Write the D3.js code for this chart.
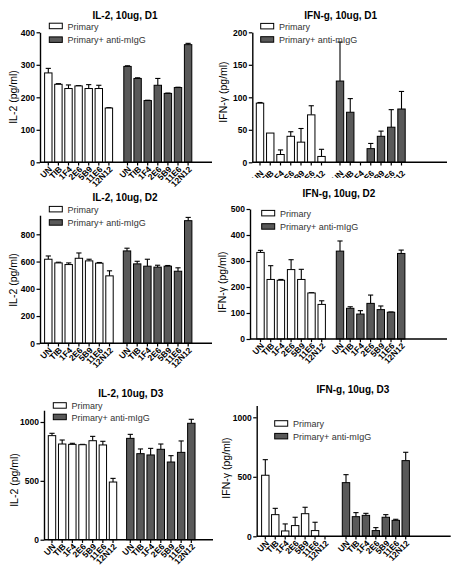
<!DOCTYPE html>
<html><head><meta charset="utf-8">
<script src="https://cdn.jsdelivr.net/npm/d3@7"></script>
<style>
html,body{margin:0;padding:0;background:#fff;}
svg{display:block;font-family:"Liberation Sans",Arial,sans-serif;}
</style></head><body>
<svg id="c" width="458" height="576"></svg>
<script>
// ---------- data ----------
const categories = ["UN","TIB","1F4","2E6","5B9","11E6","12N12"];
const seriesNames = ["Primary","Primary+ anti-mIgG"];

const il2D1Primary    = [275,240,227,235,227,227,167];
const il2D1PrimaryErr = [14,2,11,1,12,10,1];
const il2D1Anti       = [295,258,190,237,212,230,362];
const il2D1AntiErr    = [2,2,1,21,1,1,4];

const ifnD1Primary    = [91,45,12,40,31,73,9];
const ifnD1PrimaryErr = [1,0,7,7,21,14,11];
const ifnD1Anti       = [125,77,0,21,40,54,82];
const ifnD1AntiErr    = [60,21,0,8,8,27,27];

const il2D2Primary    = [617,590,578,624,605,588,495];
const il2D2PrimaryErr = [24,5,12,39,12,5,37];
const il2D2Anti       = [678,583,566,559,566,529,900];
const il2D2AntiErr    = [20,19,51,14,5,25,24];

const ifnD2Primary    = [333,229,226,267,229,177,133];
const ifnD2PrimaryErr = [8,53,3,38,39,1,14];
const ifnD2Anti       = [338,118,96,137,113,103,329];
const ifnD2AntiErr    = [39,6,13,32,14,1,13];

const il2D3Primary    = [884,813,810,807,841,805,490];
const il2D3PrimaryErr = [20,34,9,3,37,31,31];
const il2D3Anti       = [861,731,720,768,660,742,989];
const il2D3AntiErr    = [34,40,56,45,54,97,34];

const ifnD3Primary    = [513,182,45,90,190,48,0];
const ifnD3PrimaryErr = [131,53,59,70,54,70,0];
const ifnD3Anti       = [451,165,176,48,160,134,636];
const ifnD3AntiErr    = [67,34,17,25,22,9,70];

const ticksIl2D1 = [0,100,200,300,400];
const ticksIfnD1 = [0,50,100,150,200];
const ticksIl2D2 = [0,200,400,600,800];
const ticksIfnD2 = [0,100,200,300,400,500];
const ticksIl2D3 = [0,500,1000];
const ticksIfnD3 = [0,500,1000];

// ---------- layout ----------
const panels = [
 {title:"IL-2, 10ug, D1", ylab:"IL-2 (pg/ml)", p:il2D1Primary, pe:il2D1PrimaryErr, a:il2D1Anti, ae:il2D1AntiErr, ticks:ticksIl2D1, max:400,
  ax:40, xEnd:212, g1:48.3, g2:127.5, slot:10.1, y0:162.3, yTop:32.3, tx:125, ty:18.7, lx:49.3, ly:29.5, ldy:13.7, ylx:13, yly:97, clip:null, lblShift:0},
 {title:"IFN-g, 10ug, D1", ylab:"IFN-\u03b3 (pg/ml)", p:ifnD1Primary, pe:ifnD1PrimaryErr, a:ifnD1Anti, ae:ifnD1AntiErr, ticks:ticksIfnD1, max:200,
  ax:252.3, xEnd:447, g1:260, g2:340, slot:10.25, y0:162.3, yTop:32.3, tx:340.7, ty:18.7, lx:260.7, ly:29.7, ldy:13.3, ylx:223, yly:92, clip:178, lblShift:4},
 {title:"IL-2, 10ug, D2", ylab:"IL-2 (pg/ml)", p:il2D2Primary, pe:il2D2PrimaryErr, a:il2D2Anti, ae:il2D2AntiErr, ticks:ticksIl2D2, max:940,
  ax:40, xEnd:212, g1:48.3, g2:127, slot:10.2, y0:343.3, yTop:343.3-940*0.13625, tx:125, ty:200.7, lx:49.3, ly:212.7, ldy:13.3, ylx:13, yly:280, clip:null, lblShift:0},
 {title:"IFN-g, 10ug, D2", ylab:"IFN-\u03b3 (pg/ml)", p:ifnD2Primary, pe:ifnD2PrimaryErr, a:ifnD2Anti, ae:ifnD2AntiErr, ticks:ticksIfnD2, max:500,
  ax:250, xEnd:447, g1:260.5, g2:340, slot:10.2, y0:339, yTop:209, tx:339, ty:197.3, lx:261.7, ly:216.7, ldy:13.3, ylx:222, yly:282, clip:null, lblShift:0},
 {title:"IL-2, 10ug, D3", ylab:"IL-2 (pg/ml)", p:il2D3Primary, pe:il2D3PrimaryErr, a:il2D3Anti, ae:il2D3AntiErr, ticks:ticksIl2D3, max:1100,
  ax:44, xEnd:213, g1:52, g2:130.3, slot:10.17, y0:539.7, yTop:539.7-1100*0.1177, tx:130.7, ty:397.3, lx:53.3, ly:409, ldy:11.5, ylx:14, yly:480, clip:null, lblShift:0},
 {title:"IFN-g, 10ug, D3", ylab:"IFN-\u03b3 (pg/ml)", p:ifnD3Primary, pe:ifnD3PrimaryErr, a:ifnD3Anti, ae:ifnD3AntiErr, ticks:ticksIfnD3, max:1100,
  ax:256.7, xEnd:450.7, g1:265.3, g2:346, slot:9.95, y0:536.3, yTop:536.3-1100*0.119, tx:353, ty:393.3, lx:274.7, ly:427, ldy:12.7, ylx:226, yly:468, clip:null, lblShift:0}
];

const svg = d3.select("#c");
const dark = "#595959";
const barW = 7.4;

panels.forEach((P, pi) => {
  const g = svg.append("g");
  const y = d3.scaleLinear().domain([0, P.max]).range([P.y0, P.yTop]);
  const x1 = d3.scalePoint().domain(categories).range([P.g1, P.g1 + 6*P.slot]);
  const x2 = d3.scalePoint().domain(categories).range([P.g2, P.g2 + 6*P.slot]);

  // title
  g.append("text").attr("x", P.tx).attr("y", P.ty).attr("text-anchor","middle")
    .attr("font-size", 10).attr("font-weight","bold").attr("fill","#000").text(P.title);

  // y label
  g.append("text").attr("transform", `translate(${P.ylx},${P.yly}) rotate(-90)`)
    .attr("text-anchor","middle").attr("dy","0.35em").attr("font-size",10.5).attr("fill","#000").text(P.ylab);

  // bars
  const series = [
    {vals:P.p, errs:P.pe, x:x1, fill:"#fff"},
    {vals:P.a, errs:P.ae, x:x2, fill:dark}
  ];
  series.forEach(s => {
    const data = categories.map((c,i)=>({c, v:s.vals[i], e:s.errs[i]}));
    const eb = g.append("g").attr("stroke","#000").attr("stroke-width",1.1);
    data.filter(d=>d.e>0).forEach(d=>{
      eb.append("line").attr("x1", s.x(d.c)).attr("x2", s.x(d.c)).attr("y1", y(d.v)).attr("y2", y(d.v+d.e));
      eb.append("line").attr("x1", s.x(d.c)-2.6).attr("x2", s.x(d.c)+2.6).attr("y1", y(d.v+d.e)).attr("y2", y(d.v+d.e));
    });
    g.append("g").selectAll("rect").data(data.filter(d=>d.v>0)).join("rect")
      .attr("x", d=>s.x(d.c)-barW/2).attr("width", barW)
      .attr("y", d=>y(d.v)).attr("height", d=>y(0)-y(d.v))
      .attr("fill", s.fill).attr("stroke","#000").attr("stroke-width",1);
  });

  // y axis
  const ya = g.append("g").attr("transform", `translate(${P.ax},0)`)
    .call(d3.axisLeft(y).tickValues(P.ticks).tickSize(3.5).tickSizeOuter(0).tickPadding(1.5).tickFormat(d3.format("d")));
  ya.select(".domain").attr("stroke","#000").attr("stroke-width",1.4);
  ya.selectAll(".tick line").attr("stroke","#000").attr("stroke-width",1.2);
  ya.selectAll(".tick text").attr("font-size",8.5).attr("font-weight","bold").attr("fill","#000")
    .attr("font-family","Liberation Sans, Arial, sans-serif");

  // x axis line
  g.append("line").attr("x1", P.ax).attr("x2", P.xEnd).attr("y1", P.y0).attr("y2", P.y0)
    .attr("stroke","#000").attr("stroke-width",1.4);

  // x ticks and labels
  let lg = g.append("g");
  if (P.clip) {
    const id = "clip"+pi;
    svg.append("defs").append("clipPath").attr("id", id).append("rect")
      .attr("x", P.ax-20).attr("y", P.y0).attr("width", P.xEnd-P.ax+40).attr("height", P.clip-P.y0);
    lg.attr("clip-path", `url(#${id})`);
  }
  [x1, x2].forEach(xs => {
    categories.forEach(c => {
      g.append("line").attr("x1", xs(c)).attr("x2", xs(c)).attr("y1", P.y0).attr("y2", P.y0+3.2)
        .attr("stroke","#000").attr("stroke-width",1.2);
      lg.append("text").attr("text-anchor","end")
        .attr("transform", `translate(${xs(c)+4.2},${P.y0+7.5+P.lblShift}) rotate(-45)`)
        .attr("font-size",8.5).attr("font-weight","bold").attr("fill","#000").text(c);
    });
  });

  // legend
  const leg = g.append("g");
  seriesNames.forEach((n,i)=>{
    const yy = P.ly + i*P.ldy;
    leg.append("rect").attr("x", P.lx).attr("y", yy-6.3).attr("width", 13).attr("height", 5.5)
      .attr("fill", i===0?"#fff":dark).attr("stroke","#000").attr("stroke-width",1);
    leg.append("text").attr("x", P.lx+18.3).attr("y", yy).attr("font-size",9).attr("fill","#333").text(n);
  });
});
</script>
</body></html>
